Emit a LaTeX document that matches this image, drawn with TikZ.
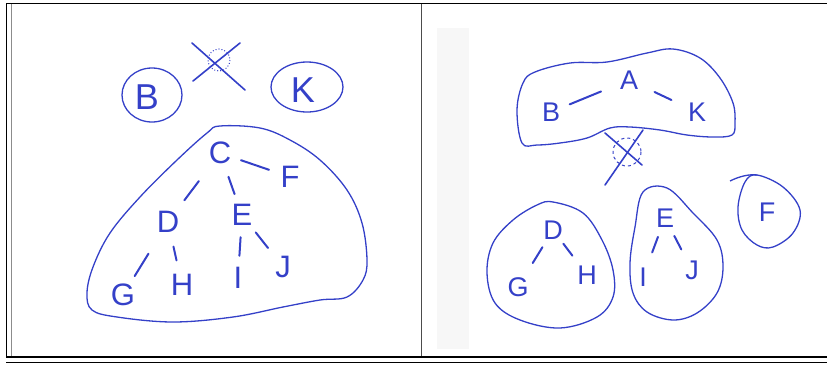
\documentclass[tikz,border=0pt]{standalone}
\usepackage{fontspec}
\setmainfont{Liberation Sans}
\definecolor{ink}{RGB}{52,64,200}
\begin{document}
\begin{tikzpicture}[x=1pt,y=-1pt,
  lbig/.style={circle,inner sep=0pt,minimum size=44pt,text=ink,font=\fontsize{31}{31}\selectfont},
  lhuge/.style={circle,inner sep=0pt,minimum size=44pt,text=ink,font=\fontsize{36}{36}\selectfont},
  lsmall/.style={circle,inner sep=0pt,minimum size=40pt,text=ink,font=\fontsize{27}{27}\selectfont},
  link/.style={draw=ink,line width=2pt,line cap=round},
  blob/.style={draw=ink,line width=1.3pt},
  cross/.style={draw=ink,line width=1.6pt,line cap=round},
  hint/.style={draw=ink,line width=1pt}]
\useasboundingbox (0,0) rectangle (827,365);
% frame
\fill[black!3] (437,28) rectangle (469,349);
\draw[line width=1.5pt] (6,3.5) -- (827,3.5);
\draw[line width=1pt] (6,3) -- (6,357.5);
\draw[black!45,line width=1.5pt] (11.5,4) -- (11.5,356);
\draw[black!70,line width=1.8pt] (421.5,4) -- (421.5,356);
\draw[line width=1.5pt] (6,357) -- (827,357);
\draw[line width=1pt] (6,362.5) -- (827,362.5);

% ---------- left panel ----------
\node[lhuge] (lB) at (147,97) {B};
\node[lhuge] (lK) at (303,90) {K};
\draw[blob] (152,95) ellipse [x radius=30,y radius=27];
\draw[blob] (307,87) ellipse [x radius=36,y radius=25];
\draw[cross] (192,43) -- (245,90);
\draw[cross] (193,81) -- (240,43);
\draw[hint,dotted] (219,60) circle [radius=11];

\draw[blob] plot[smooth cycle,tension=0.6] coordinates {(220,126) (260,128) (290,140) (320,160) (347,190) (362,223) (367,260) (363,280) (347,297) (320,300) (283,307) (233,317) (173,322) (117,317) (92,310) (87,293) (93,267) (110,233) (140,197) (177,160) (207,133)};

\node[lbig] (lC) at (220,153) {C};
\node[lbig] (lF) at (290,177) {F};
\node[lbig] (lD) at (168,222) {D};
\node[lbig] (lE) at (242,215) {E};
\node[lbig] (lG) at (123,295) {G};
\node[lbig] (lH) at (182,285) {H};
\node[lbig] (lI) at (238,278) {I};
\node[lbig] (lJ) at (283,267) {J};

\draw[link] (lC) -- (lF);
\draw[link,shorten <=13pt,shorten >=5pt] (lC) -- (lD);
\draw[link,shorten <=3pt] (lC) -- (lE);
\draw[link,shorten <=15pt] (lD) -- (lG);
\draw[link,shorten <=3pt,shorten >=3pt] (lD) -- (lH);
\draw[link] (lE) -- (lI);
\draw[link,shorten >=2pt] (lE) -- (lJ);

% ---------- right panel ----------
\draw[blob] plot[smooth cycle,tension=0.6] coordinates {(522,143) (517,110) (523,83) (535,72) (570,63) (607,62) (647,53) (673,49) (700,58) (720,78) (733,103) (735,123) (732,135) (713,137) (687,135) (660,130) (630,127) (610,128) (587,138) (560,143) (537,145)};
\node[lsmall] (rB) at (551,112) {B};
\node[lsmall] (rA) at (629,80) {A};
\node[lsmall] (rK) at (697,112) {K};
\draw[link,shorten >=10pt] (rB) -- (rA);
\draw[link,shorten <=8pt,shorten >=8pt] (rA) -- (rK);

\draw[cross] (605,133) -- (642,165);
\draw[cross] (643,130) -- (605,185);
\draw[hint,dashed] (627,152) circle [x radius=14,y radius=14];

\draw[blob] plot[smooth cycle,tension=0.6] coordinates {(553,202) (583,213) (602,240) (613,270) (613,297) (597,317) (560,328) (520,320) (495,303) (487,273) (493,243) (513,220) (537,205)};
\node[lsmall] (rD) at (553,230) {D};
\node[lsmall] (rG) at (518,287) {G};
\node[lsmall] (rH) at (587,275) {H};
\draw[link,shorten >=8pt] (rD) -- (rG);
\draw[link,shorten <=-3pt,shorten >=4pt] (rD) -- (rH);

\draw[blob] plot[smooth cycle,tension=0.6] coordinates {(643,192) (667,188) (693,213) (717,240) (723,267) (717,293) (697,313) (673,320) (647,312) (633,293) (630,263) (635,227)};
\node[lsmall] (rE) at (665,218) {E};
\node[lsmall] (rI) at (643,277) {I};
\node[lsmall] (rJ) at (692,270) {J};
\draw[link,shorten >=6pt] (rE) -- (rI);
\draw[link,shorten >=3pt] (rE) -- (rJ);

\draw[blob] plot[smooth cycle,tension=0.6] coordinates {(745,182) (757,175) (783,187) (800,210) (793,233) (773,247) (757,245) (742,230) (738,207)};
\draw[blob] (730,181) .. controls (740,176) and (750,174) .. (757,175);
\node[lsmall] (rF) at (767,212) {F};
\end{tikzpicture}
\end{document}
